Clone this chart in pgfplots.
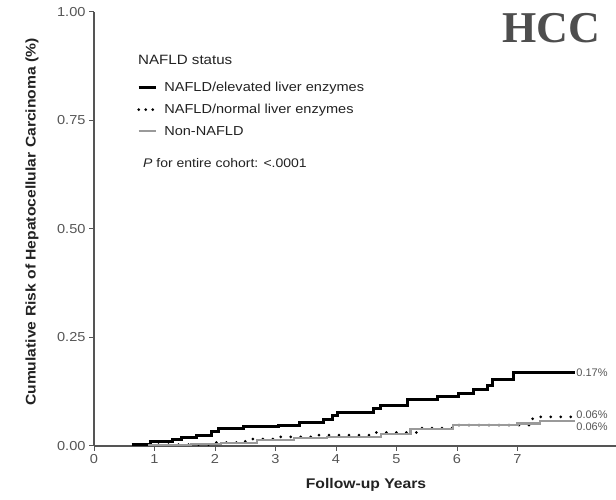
\documentclass[border=0pt]{standalone}
\usepackage{fontspec}
\setmainfont{Liberation Sans}[FakeStretch=1.12]
\newfontfamily\hccfont{Liberation Serif}
\newfontfamily\endfont{Liberation Sans}
\usepackage{pgfplots}
\pgfplotsset{compat=1.18}
\definecolor{axgray}{HTML}{555555}
\definecolor{txt}{HTML}{222222}
\definecolor{nongray}{HTML}{9A9A9A}
\begin{document}
\begin{tikzpicture}[x=1pt,y=1pt]
\path[use as bounding box, clip] (0,0) rectangle (616,500);
\begin{axis}[
  at={(94pt,54pt)}, anchor=south west, scale only axis,
  width=532.4pt, height=434pt,
  xmin=0, xmax=8.8, ymin=0, ymax=1,
  axis x line=bottom, axis y line=left,
  axis line style={-, draw=axgray, line width=1.8pt},
  xtick={0,...,7}, ytick={0,0.25,0.5,0.75,1},
  tick align=outside, major tick length=5pt,
  tick style={axgray, line width=1pt},
  yticklabel style={/pgf/number format/.cd, fixed, fixed zerofill, precision=2},
  /pgf/number format/assume math mode=true,
  ticklabel style={font=\fontsize{13}{15}\selectfont, text=axgray},
  clip=false,
  legend style={at={(0.0808,0.843)}, anchor=north west, draw=none, fill=none,
    font=\fontsize{13}{15}\selectfont, text=txt, row sep=7pt, inner sep=0pt,
    column sep=5pt},
  legend cell align=left,
]
\addplot[const plot, black, line width=3pt] coordinates {
(0.62,0.004) (0.93,0.010) (1.30,0.014) (1.45,0.019) (1.70,0.025) (1.95,0.033)
(2.05,0.041) (2.47,0.044) (3.05,0.048) (3.40,0.055) (3.80,0.062) (3.95,0.071)
(4.02,0.078) (4.62,0.087) (4.73,0.094) (5.19,0.106) (5.67,0.114) (6.02,0.121)
(6.27,0.131) (6.50,0.140) (6.58,0.154) (6.93,0.169) (7.95,0.169)};
\addlegendentry{NAFLD/elevated liver enzymes}
\addplot[const plot, black, line width=3pt, line cap=round, dash pattern=on 0pt off 10pt,
  legend image code/.code={\draw[black, line width=3pt, line cap=round, dash pattern=on 0pt off 7pt] (0pt,0pt) -- (16pt,0pt);}]
 coordinates {
(0.90,0.003) (2.00,0.008) (2.50,0.016) (3.00,0.021) (3.60,0.025) (4.55,0.031)
(5.34,0.041) (6.00,0.048) (7.25,0.067) (7.95,0.067)};
\addlegendentry{NAFLD/normal liver enzymes}
\addplot[const plot, nongray, line width=2.2pt] coordinates {
(0.90,0.002) (1.60,0.004) (2.10,0.007) (2.70,0.014) (3.30,0.018) (3.85,0.021)
(4.75,0.028) (5.23,0.040) (5.93,0.048) (7.00,0.052) (7.37,0.058) (7.95,0.058)};
\addlegendentry{Non-NAFLD}
\node[anchor=west, text=axgray, font=\endfont\fontsize{11}{13}\selectfont, inner sep=0pt] at (axis cs:7.97,0.170) {0.17\%};
\node[anchor=west, text=axgray, font=\endfont\fontsize{11}{13}\selectfont, inner sep=0pt] at (axis cs:7.97,0.072) {0.06\%};
\node[anchor=west, text=axgray, font=\endfont\fontsize{11}{13}\selectfont, inner sep=0pt] at (axis cs:7.97,0.045) {0.06\%};
\end{axis}
\node[anchor=west, text=txt, font=\fontsize{13.5}{15}\selectfont, inner sep=0pt] at (138,440) {NAFLD status};
\node[anchor=west, text=txt, font=\fontsize{12.5}{15}\selectfont, inner sep=0pt] at (143,337) {\textit{P} for entire cohort: <.0001};
\node[text=txt, font=\bfseries\fontsize{14}{16}\selectfont] at (366,15) {Follow-up Years};
\node[rotate=90, text=txt, font=\bfseries\fontsize{14}{16}\selectfont] at (32,278) {Cumulative Risk of Hepatocellular Carcinoma (\%)};
\node[text=txt!80!white, font=\hccfont\bfseries\fontsize{44}{48}\selectfont] at (551,472) {HCC};
\end{tikzpicture}
\end{document}
